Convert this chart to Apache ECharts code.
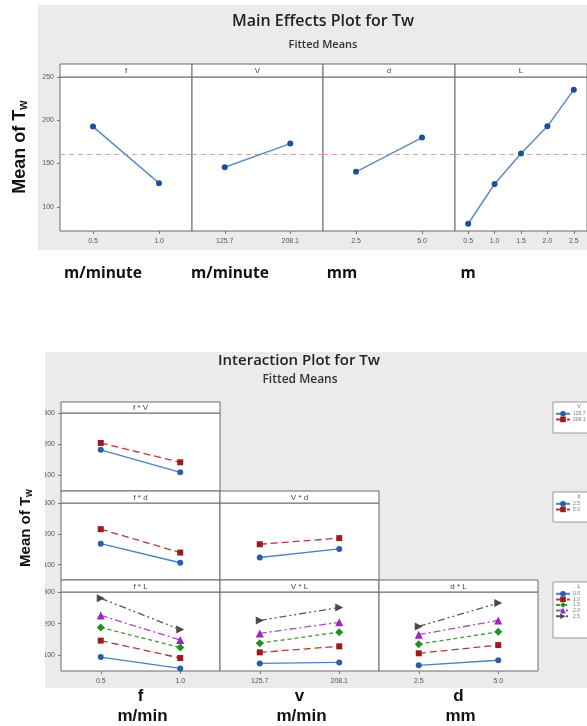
<!DOCTYPE html>
<html><head><meta charset="utf-8">
<script src="https://cdn.jsdelivr.net/npm/echarts@6/dist/echarts.min.js"></script>
<style>html,body{margin:0;padding:0;background:#fff}#c{width:587px;height:726px}</style>
</head><body><div id="c"></div>
<script>
// ---------- Main effects data ----------
const fLevels = ['0.5', '1.0'];
const vLevels = ['125.7', '208.1'];
const dLevels = ['2.5', '5.0'];
const lLevels = ['0.5', '1.0', '1.5', '2.0', '2.5'];
const meanF = [192.7, 127.3];
const meanV = [145.7, 173.0];
const meanD = [140.4, 180.0];
const meanL = [80.4, 126.3, 161.5, 193.0, 235.4];
const grandMean = 160.5;
const mainTicks = [100, 150, 200, 250];
const mainPanelNames = ['f', 'V', 'd', 'L'];
const mainUnits = ['m/minute', 'm/minute', 'mm', 'm'];

// ---------- Interaction data (rows = trace levels) ----------
const fxV = [[182, 110], [204, 142]];          // V = 125.7, 208.1
const fxD = [[168, 106], [215, 139]];          // d = 2.5, 5.0
const vxD = [[123, 151], [166, 186]];          // d = 2.5, 5.0
const fxL = [[94, 58], [146, 91], [188, 124], [226, 148], [280, 181]];
const vxL = [[74, 77], [109, 128], [138, 173], [169, 204], [210, 251]];
const dxL = [[68, 84], [106, 132], [135, 174], [165, 210], [191, 265]];
const interTicks = [100, 200, 300];
const interNames = ['f', 'v', 'd'];
const interUnits = ['m/min', 'm/min', 'mm'];

// ---------- styles ----------
const FONT = "'Liberation Sans', Arial, sans-serif";
const TFONT = "'Open Sans', 'Noto Sans', sans-serif";
const traceStyles = [
  { color: '#2a5ea8', line: '#4a82bf', symbol: 'circle', type: 'solid', rot: 0, size: 6 },
  { color: '#9c1a1a', line: '#b23a3a', symbol: 'rect', type: [7, 4], rot: 0, size: 6 },
  { color: '#1e921e', line: '#3a9a3a', symbol: 'diamond', type: [4, 3], rot: 0, size: 8 },
  { color: '#9b25c2', line: '#a64bc6', symbol: 'triangle', type: [7, 3, 2, 3], rot: 0, size: 8 },
  { color: '#4a4a4a', line: '#5a5a5a', symbol: 'triangle', type: [7, 3, 2, 3, 2, 3], rot: -90, size: 8 }
];

const grid = [], xAxis = [], yAxis = [], series = [], graphic = [];

// backgrounds
graphic.push({ type: 'rect', z: -10, shape: { x: 38, y: 5, width: 560, height: 245 }, style: { fill: '#ebebeb' } });
graphic.push({ type: 'rect', z: -10, shape: { x: 45, y: 352, width: 550, height: 336 }, style: { fill: '#ebebeb' } });

function addStrip(x, y, w, h, label) {
  graphic.push({ type: 'rect', z: 5, shape: { x: x, y: y, width: w, height: h }, style: { fill: '#fff', stroke: '#6a6a6a', lineWidth: 1 } });
  graphic.push({ type: 'text', z: 6, x: x + w / 2, y: y + h / 2 + 0.5, style: { text: label, font: '8px ' + FONT, fill: '#444', align: 'center', verticalAlign: 'middle' } });
}

function addGrid(left, top, width, height, cats, yMin, yMax, ticks, showY, showX) {
  const gi = grid.length;
  grid.push({ left: left, top: top, width: width, height: height, show: true, backgroundColor: '#fff', borderColor: '#6a6a6a', borderWidth: 1, containLabel: false });
  xAxis.push({
    type: 'category', gridIndex: gi, data: cats, boundaryGap: true,
    axisLine: { show: false },
    axisTick: { show: showX, alignWithLabel: true, length: 3, lineStyle: { color: '#777' } },
    axisLabel: { show: showX, fontSize: 7, color: '#555', margin: 7, fontFamily: FONT },
    splitLine: { show: false }
  });
  yAxis.push({
    type: 'value', gridIndex: gi, min: yMin, max: yMax,
    axisLine: { show: false },
    axisTick: { show: showY, length: 3, customValues: ticks, lineStyle: { color: '#777' } },
    axisLabel: { show: showY, fontSize: 7, color: '#555', margin: 6, customValues: ticks, fontFamily: FONT },
    splitLine: { show: false }
  });
  return gi;
}

// ---------- Main effects panels ----------
const mainCols = [[60, 132], [192, 131], [323, 132], [455, 132]];
const mainCats = [fLevels, vLevels, dLevels, lLevels];
const mainVals = [meanF, meanV, meanD, meanL];
mainCols.forEach((c, i) => {
  const gi = addGrid(c[0], 77, c[1], 154, mainCats[i], 72, 250, mainTicks, i === 0, true);
  addStrip(c[0], 64, c[1], 13, mainPanelNames[i]);
  series.push({
    type: 'line', xAxisIndex: gi, yAxisIndex: gi, data: mainVals[i],
    symbol: 'circle', symbolSize: 6, z: 3,
    itemStyle: { color: '#1f4f99' }, lineStyle: { color: '#5b8fc2', width: 1.5 },
    markLine: {
      silent: true, symbol: 'none', z: 2, label: { show: false },
      lineStyle: { color: '#d8a496', type: [5, 4], width: 1 },
      data: [{ yAxis: grandMean }]
    }
  });
});
graphic.push({ type: 'text', x: 323, y: 21, style: { text: 'Main Effects Plot for Tw', font: '600 16px ' + TFONT, fill: '#222', align: 'center', verticalAlign: 'middle' } });
graphic.push({ type: 'text', x: 323, y: 45, style: { text: 'Fitted Means', font: '600 11px ' + TFONT, fill: '#333', align: 'center', verticalAlign: 'middle' } });
const unitX = [103, 230, 342, 468];
mainUnits.forEach((u, i) => {
  graphic.push({ type: 'text', x: unitX[i], y: 274, style: { text: u, font: 'bold 15.5px ' + TFONT, fill: '#111', align: 'center', verticalAlign: 'middle' } });
});

// ---------- Interaction panels ----------
const rows = [{ top: 413, h: 78, strip: 402 }, { top: 503, h: 77, strip: 491 }, { top: 592, h: 79, strip: 580 }];
const cols = [{ left: 61, w: 159 }, { left: 220, w: 159 }, { left: 379, w: 159 }];
const panels = [
  { r: 0, c: 0, title: 'f * V', cats: fLevels, data: fxV, g: 'V', levels: vLevels },
  { r: 1, c: 0, title: 'f * d', cats: fLevels, data: fxD, g: 'd', levels: dLevels },
  { r: 1, c: 1, title: 'V * d', cats: vLevels, data: vxD, g: 'd', levels: dLevels },
  { r: 2, c: 0, title: 'f * L', cats: fLevels, data: fxL, g: 'L', levels: lLevels },
  { r: 2, c: 1, title: 'V * L', cats: vLevels, data: vxL, g: 'L', levels: lLevels },
  { r: 2, c: 2, title: 'd * L', cats: dLevels, data: dxL, g: 'L', levels: lLevels }
];
panels.forEach(p => {
  const R = rows[p.r], C = cols[p.c];
  const gi = addGrid(C.left, R.top, C.w, R.h, p.cats, 50, 300, interTicks, p.c === 0, p.r === 2);
  addStrip(C.left, R.strip, C.w, R.top - R.strip, p.title);
  p.data.forEach((vals, k) => {
    const s = traceStyles[k];
    series.push({
      type: 'line', name: p.g + ' ' + p.levels[k], xAxisIndex: gi, yAxisIndex: gi, data: vals,
      symbol: s.symbol, symbolSize: s.size, symbolRotate: s.rot, z: 3 + k,
      itemStyle: { color: s.color }, lineStyle: { color: s.line, width: 1.3, type: s.type }
    });
  });
});

// cover to mimic clipped tick labels of the bottom chart
graphic.push({ type: 'rect', z: 50, shape: { x: 0, y: 352, width: 45, height: 340 }, style: { fill: '#fff' } });

graphic.push({ type: 'text', x: 299, y: 361, style: { text: 'Interaction Plot for Tw', font: '600 15px ' + TFONT, fill: '#222', align: 'center', verticalAlign: 'middle' } });
graphic.push({ type: 'text', x: 300, y: 380, style: { text: 'Fitted Means', font: '600 12px ' + TFONT, fill: '#333', align: 'center', verticalAlign: 'middle' } });
cols.forEach((C, i) => {
  graphic.push({ type: 'text', x: C.left + C.w / 2, y: 696, style: { text: interNames[i], font: 'bold 17px ' + FONT, fill: '#111', align: 'center', verticalAlign: 'middle' } });
  graphic.push({ type: 'text', x: C.left + C.w / 2 + 2, y: 716, style: { text: interUnits[i], font: 'bold 17px ' + FONT, fill: '#111', align: 'center', verticalAlign: 'middle' } });
});

// y-axis titles
function yTitle(x, y, size) {
  graphic.push({
    type: 'text', z: 60, x: x, y: y, rotation: Math.PI / 2,
    style: {
      text: 'Mean of T{s|w}', font: 'bold ' + size + 'px ' + FONT, fill: '#111', align: 'center', verticalAlign: 'middle',
      rich: { s: { fontSize: Math.round(size * 0.65), fontWeight: 'bold', fontFamily: FONT, fill: '#111', padding: [Math.round(size * 0.45), 0, 0, 0] } }
    }
  });
}
yTitle(20, 147, 18);
yTitle(26, 528, 15);

// legends
const legendBoxes = [
  { y: 402, h: 31, title: 'V', levels: vLevels },
  { y: 492, h: 30, title: 'd', levels: dLevels },
  { y: 582, h: 56, title: 'L', levels: lLevels }
];
const legend = [];
legendBoxes.forEach(b => {
  graphic.push({ type: 'rect', z: 5, shape: { x: 553, y: b.y, width: 40, height: b.h }, style: { fill: '#fff', stroke: '#999', lineWidth: 1 } });
  graphic.push({ type: 'text', z: 6, x: 579, y: b.y + 5, style: { text: b.title, font: '5px ' + FONT, fill: '#666', align: 'center', verticalAlign: 'middle' } });
  legend.push({
    z: 20,
    data: b.levels.map(l => b.title + ' ' + l), orient: 'vertical', left: 555, top: b.y + 9,
    itemWidth: 14, itemHeight: 7, itemGap: 0, padding: 0, selectedMode: false,
    formatter: n => n.split(' ')[1],
    itemStyle: { borderWidth: 0 },
    lineStyle: { width: 2 },
    textStyle: { fontSize: 5, color: '#777', padding: [0, 0, 0, -2] }
  });
});

const chart = echarts.init(document.getElementById('c'), null, { renderer: 'canvas' });
chart.setOption({ animation: false, backgroundColor: '#fff', grid, xAxis, yAxis, series, graphic, legend });
</script></body></html>
